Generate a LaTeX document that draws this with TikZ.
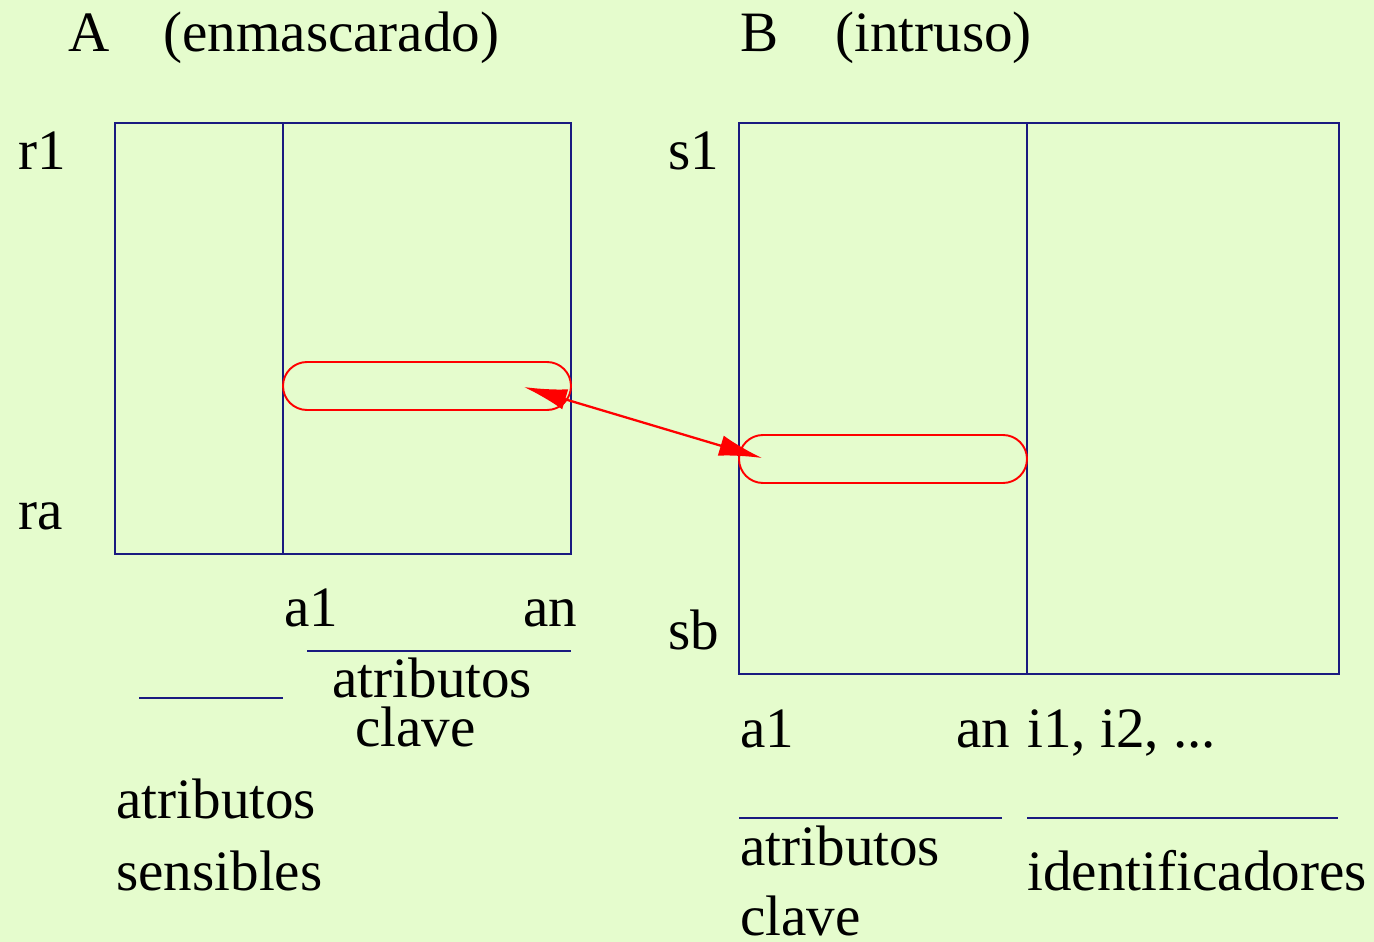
\documentclass[tikz,border=0pt]{standalone}
\usepackage{fontspec}
\setmainfont{Liberation Serif}
\usepackage{xcolor}
\usetikzlibrary{arrows.meta}
\definecolor{paleback}{HTML}{E5FCCD}
\definecolor{boxnavy}{HTML}{1A1A80}
\definecolor{linkred}{HTML}{FF0000}

\begin{document}
\begin{tikzpicture}[x=0.02cm, y=-0.02cm,
    lbl/.style={anchor=base west, inner sep=0pt, font=\fontsize{32.5}{38}\selectfont},
    tabla/.style={draw=boxnavy, line width=1.1pt},
    tupla/.style={draw=linkred, line width=1.1pt, rounded corners=0.48cm},
    enlace/.style={linkred, line width=1.3pt, {Latex[length=0.86cm,width=0.42cm]}-{Latex[length=0.86cm,width=0.42cm]}}]
        \fill[paleback] (0,0) rectangle (1374,942);
        \useasboundingbox (0,0) rectangle (1374,942);
        % tabla A
        \draw[tabla] (115,123) rectangle (571,554);
        \draw[tabla] (283,123) -- (283,554);
        \draw[tupla] (283,362) rectangle (571,410);
        % tabla B
        \draw[tabla] (739,123) rectangle (1339,674);
        \draw[tabla] (1027,123) -- (1027,674);
        \draw[tupla] (739,435) rectangle (1027,483);
        % titulos
        \node[lbl] (tA) at (68,52) {A};
        \node[lbl] (tAx) at (163,52) {(enmascarado)};
        \node[lbl] (tB) at (740,52) {B};
        \node[lbl] (tBx) at (835,52) {(intruso)};
        % filas
        \node[lbl] (r1) at (18,170) {r1};
        \node[lbl] (ra) at (18,530) {ra};
        \node[lbl] (s1) at (668,170) {s1};
        \node[lbl] (sb) at (668,650) {sb};
        % columnas de A
        \node[lbl] (a1A) at (284,627) {a1};
        \node[lbl] (anA) at (523,627) {an};
        \draw[tabla] (307,651) -- (571,651);
        \node[lbl] (claveA1) at (332,698) {atributos};
        \node[lbl] (claveA2) at (355,746) {clave};
        \draw[tabla] (139,698) -- (283,698);
        \node[lbl] (sens1) at (116,818) {atributos};
        \node[lbl] (sens2) at (116,890) {sensibles};
        % columnas de B
        \node[lbl] (a1B) at (740,747) {a1};
        \node[lbl] (anB) at (956,747) {an};
        \node[lbl] (ids) at (1027,747) {i1, i2, ...};
        \draw[tabla] (739,818) -- (1002,818);
        \draw[tabla] (1027,818) -- (1338,818);
        \node[lbl] (claveB1) at (740,866) {atributos};
        \node[lbl] (claveB2) at (740,935) {clave};
        \node[lbl] (ident) at (1027,890) {identificadores};
        % enlace entre tuplas
        \coordinate (pA) at (524,387);
        \coordinate (pB) at (762,458);
        \draw[enlace] (pA) -- (pB);
      \end{tikzpicture}
\end{document}
